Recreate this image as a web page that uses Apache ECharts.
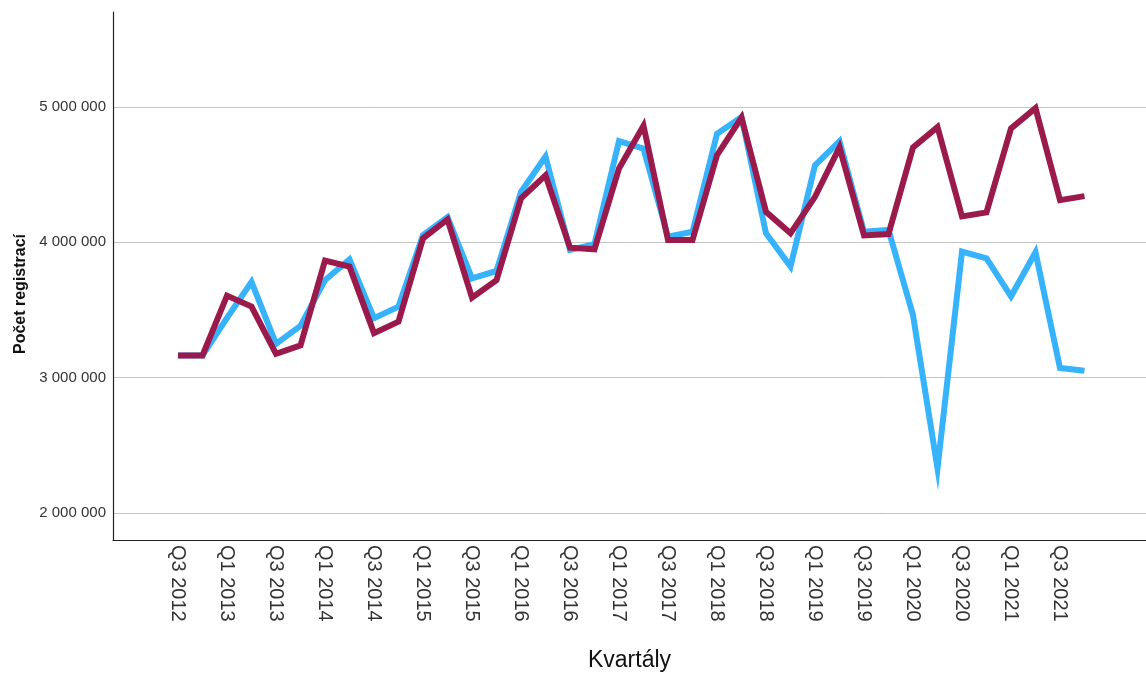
<!DOCTYPE html>
<html>
<head>
<meta charset="utf-8">
<script src="https://cdn.jsdelivr.net/npm/echarts@6/dist/echarts.min.js"></script>
<style>
html,body{margin:0;padding:0;background:#fff;}
#chart{width:1146px;height:674px;}
</style>
</head>
<body>
<div id="chart"></div>
<script>
const quarters = [
  'Q3 2012','Q4 2012',
  'Q1 2013','Q2 2013','Q3 2013','Q4 2013',
  'Q1 2014','Q2 2014','Q3 2014','Q4 2014',
  'Q1 2015','Q2 2015','Q3 2015','Q4 2015',
  'Q1 2016','Q2 2016','Q3 2016','Q4 2016',
  'Q1 2017','Q2 2017','Q3 2017','Q4 2017',
  'Q1 2018','Q2 2018','Q3 2018','Q4 2018',
  'Q1 2019','Q2 2019','Q3 2019','Q4 2019',
  'Q1 2020','Q2 2020','Q3 2020','Q4 2020',
  'Q1 2021','Q2 2021','Q3 2021','Q4 2021'
];
const actualValues = [
  3163000, 3163000,
  3440000, 3706000, 3249000, 3382000,
  3720000, 3872000, 3438000, 3524000,
  4052000, 4185000, 3733000, 3787000,
  4371000, 4632000, 3942000, 3986000,
  4747000, 4690000, 4040000, 4077000,
  4800000, 4925000, 4065000, 3820000,
  4568000, 4745000, 4077000, 4090000,
  3460000, 2330000, 3930000, 3880000,
  3600000, 3925000, 3070000, 3050000
];
const expectedValues = [
  3163000, 3163000,
  3605000, 3524000, 3175000, 3237000,
  3863000, 3819000, 3328000, 3413000,
  4028000, 4168000, 3590000, 3720000,
  4323000, 4494000, 3959000, 3947000,
  4544000, 4860000, 4015000, 4015000,
  4642000, 4920000, 4224000, 4065000,
  4335000, 4700000, 4050000, 4060000,
  4700000, 4850000, 4190000, 4220000,
  4840000, 4990000, 4310000, 4340000
];
const yTicks = [2000000, 3000000, 4000000, 5000000];
const yMin = 1800000;
const yMax = 5700000;

const FONT = '"Liberation Sans", Arial, sans-serif';
function fmt(v){ return String(Math.round(v)).replace(/\B(?=(\d{3})+(?!\d))/g, ' '); }

const chart = echarts.init(document.getElementById('chart'), null, {renderer:'canvas'});
chart.setOption({
  animation: false,
  backgroundColor: '#ffffff',
  textStyle: {fontFamily: FONT},
  grid: [
    {left: 113, right: 0, top: 12, bottom: 134, containLabel: false, outerBoundsMode: 'none'},
    {left: 178, right: 61.5, top: 12, bottom: 134, containLabel: false, outerBoundsMode: 'none'}
  ],
  xAxis: [
    {
      gridIndex: 0, type: 'value', min: 0, max: 1,
      axisLine: {show: true, lineStyle: {color: '#222', width: 1.2}},
      axisTick: {show: false}, axisLabel: {show: false}, splitLine: {show: false},
      name: 'Kvartály', nameLocation: 'middle', nameGap: 109,
      nameTextStyle: {fontFamily: FONT, fontSize: 23, color: '#111'}
    },
    {
      gridIndex: 1, type: 'category', boundaryGap: false, data: quarters,
      axisLine: {show: false}, axisTick: {show: false}, splitLine: {show: false},
      axisLabel: {interval: 1, rotate: -90, margin: 5, fontFamily: FONT, fontSize: 20, color: '#333', padding: [11, 0, 0, 0]}
    }
  ],
  yAxis: [
    {
      gridIndex: 0, type: 'value', min: yMin, max: yMax,
      axisLine: {show: true, lineStyle: {color: '#222', width: 1.2}},
      axisTick: {show: false, customValues: yTicks},
      axisLabel: {customValues: yTicks, formatter: fmt, margin: 7, fontFamily: FONT, fontSize: 15, color: '#333', padding: [5, 0, 0, 0]},
      splitLine: {show: true, lineStyle: {color: '#c4c4c4', width: 1}},
      name: 'Počet registrací', nameLocation: 'middle', nameRotate: 90, nameGap: 83,
      nameTextStyle: {fontFamily: FONT, fontSize: 16, fontWeight: 'bold', color: '#111', padding: [0, 36, 0, 0]}
    },
    {
      gridIndex: 1, type: 'value', min: yMin, max: yMax, show: false,
      splitLine: {show: false}
    }
  ],
  series: [
    {
      name: 'Skutečnost', type: 'line', xAxisIndex: 1, yAxisIndex: 1,
      data: actualValues, symbol: 'none', clip: false,
      lineStyle: {color: '#36b3fc', width: 6, join: 'miter', miterLimit: 12, cap: 'butt'}
    },
    {
      name: 'Očekávání', type: 'line', xAxisIndex: 1, yAxisIndex: 1,
      data: expectedValues, symbol: 'none', clip: false,
      lineStyle: {color: '#9b1a4c', width: 6, join: 'miter', miterLimit: 12, cap: 'butt'}
    }
  ]
});
</script>
</body>
</html>
